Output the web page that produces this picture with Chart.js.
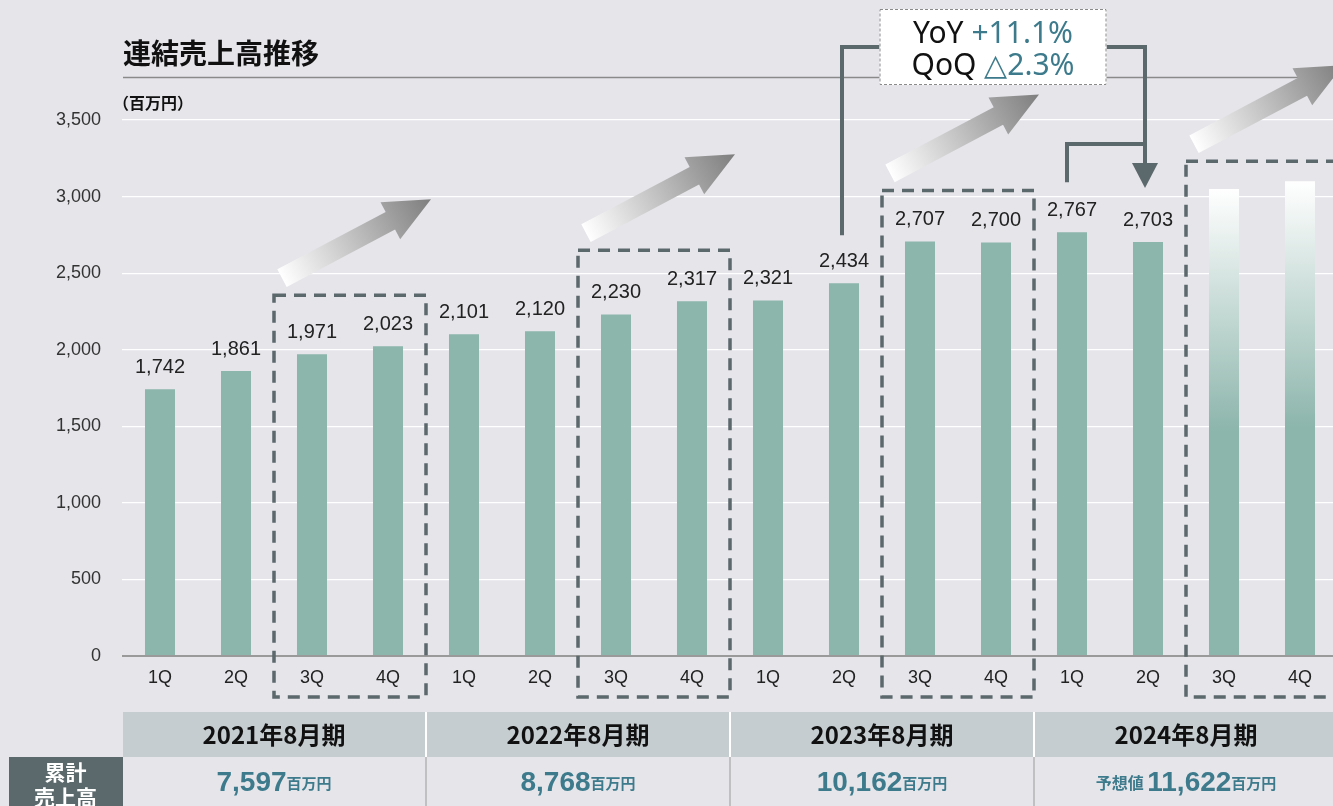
<!DOCTYPE html>
<html>
<head>
<meta charset="utf-8">
<script src="https://cdn.jsdelivr.net/npm/chart.js@4"></script>
<style>
  html, body { margin: 0; padding: 0; background: #e6e5ea; overflow: hidden; }
  #wrap { position: absolute; left: 0; top: 0; width: 1345px; height: 806px; }
</style>
</head>
<body>
<div id="wrap"><canvas id="c" width="1345" height="806"></canvas></div>
<script>
// ---- data ----
const quarters = ['1Q','2Q','3Q','4Q','1Q','2Q','3Q','4Q','1Q','2Q','3Q','4Q','1Q','2Q','3Q','4Q'];
const sales = [1742,1861,1971,2023,2101,2120,2230,2317,2321,2434,2707,2700,2767,2703,3050,3100];
const isForecast = [false,false,false,false,false,false,false,false,false,false,false,false,false,false,true,true];
const yTicks = [0,500,1000,1500,2000,2500,3000,3500];
const fiscalYears = ['2021年8月期','2022年8月期','2023年8月期','2024年8月期'];
const cumulativeSales = ['7,597','8,768','10,162','11,622'];
const cumulativePrefix = ['','','','予想値'];
const cumulativeUnit = '百万円';
const highlightGroups = [[2,3],[6,7],[10,11],[14,15]];
const yoyLabel = 'YoY', yoyValue = '+11.1%';
const qoqLabel = 'QoQ', qoqValue = '△2.3%';
const chartTitle = '連結売上高推移';
const unitLabel = '（百万円）';
const rowHeader = ['累計','売上高'];

// ---- styles ----
const BAR = '#8cb5ab';
const DARK = '#5b686c';
const TEAL = '#3d7b8c';
const SANS = '"Liberation Sans", Arial, sans-serif';
const JP = '"Noto Sans CJK JP", "Noto Sans", sans-serif';

function barColor(ctx) {
  const i = ctx.dataIndex;
  if (!isForecast[i]) return BAR;
  const ch = ctx.chart, area = ch.chartArea;
  if (!area) return BAR;
  const yTop = ch.scales.y.getPixelForValue(sales[i]);
  const g = ch.ctx.createLinearGradient(0, yTop, 0, area.bottom);
  g.addColorStop(0, '#ffffff');
  g.addColorStop(0.52, BAR);
  g.addColorStop(1, BAR);
  return g;
}

function drawArrow(ctx, x0, y0, x1, y1) {
  const dx = x1 - x0, dy = y1 - y0, L = Math.hypot(dx, dy);
  const ux = dx / L, uy = dy / L, nx = -uy, ny = ux;
  const sw = 10, hw = 21, hl = 46;
  const bx = x1 - ux * hl, by = y1 - uy * hl;
  const g = ctx.createLinearGradient(x0, y0, x1, y1);
  g.addColorStop(0, '#ffffff');
  g.addColorStop(1, '#7e7e7e');
  ctx.beginPath();
  ctx.moveTo(x0 + nx * sw, y0 + ny * sw);
  ctx.lineTo(bx + nx * sw, by + ny * sw);
  ctx.lineTo(bx + nx * hw, by + ny * hw);
  ctx.lineTo(x1, y1);
  ctx.lineTo(bx - nx * hw, by - ny * hw);
  ctx.lineTo(bx - nx * sw, by - ny * sw);
  ctx.lineTo(x0 - nx * sw, y0 - ny * sw);
  ctx.closePath();
  ctx.fillStyle = g;
  ctx.fill();
}

function drawMixed(ctx, parts, cx, cy) {
  let total = 0;
  parts.forEach(p => { ctx.font = p.font; p.w = ctx.measureText(p.text).width; total += p.w; });
  let x = cx - total / 2;
  ctx.textAlign = 'left';
  ctx.textBaseline = 'middle';
  parts.forEach(p => { ctx.font = p.font; ctx.fillStyle = p.color; ctx.fillText(p.text, x, cy); x += p.w; });
}

const overlay = {
  id: 'overlay',
  afterDatasetsDraw(chart) {
    const ctx = chart.ctx;
    const meta = chart.getDatasetMeta(0);
    ctx.save();
    ctx.fillStyle = '#222';
    ctx.font = '20px ' + SANS;
    ctx.textAlign = 'center';
    ctx.textBaseline = 'middle';
    meta.data.forEach((bar, i) => {
      if (isForecast[i]) return;
      ctx.fillText(sales[i].toLocaleString('en-US'), bar.x, bar.y - 22);
    });
    ctx.restore();
  },
  afterDraw(chart) {
    const ctx = chart.ctx, xs = chart.scales.x, ys = chart.scales.y, area = chart.chartArea;
    const half = (xs.getPixelForValue(1) - xs.getPixelForValue(0)) / 2;
    const W = chart.width;
    ctx.save();

    // title and rule
    ctx.fillStyle = '#111';
    ctx.font = 'bold 28px ' + JP;
    ctx.textAlign = 'left';
    ctx.textBaseline = 'middle';
    ctx.fillText(chartTitle, area.left + 1, 53);
    ctx.strokeStyle = '#8a8a8a';
    ctx.lineWidth = 1.5;
    ctx.beginPath(); ctx.moveTo(area.left + 1, 77.5); ctx.lineTo(W, 77.5); ctx.stroke();
    ctx.font = 'bold 16px ' + JP;
    ctx.fillStyle = '#111';
    ctx.fillText(unitLabel, area.left - 9, 103);

    // dashed boxes and arrows
    highlightGroups.forEach(g => {
      const l = xs.getPixelForValue(g[0]) - half;
      const r = xs.getPixelForValue(g[1]) + half;
      const vmax = Math.max(...g.map(i => sales[i]));
      const labelled = g.some(i => !isForecast[i]);
      const top = ys.getPixelForValue(vmax) - (labelled ? 51 : 20);
      const bottom = area.bottom + 41;
      ctx.setLineDash([12, 8]);
      ctx.strokeStyle = DARK;
      ctx.lineWidth = 3.5;
      ctx.strokeRect(l, top, r - l, bottom - top);
      ctx.setLineDash([]);
      drawArrow(ctx, l + 8, top - 17, r + 5, top - 96);
    });

    // annotation box
    const bw = 227, bh = 76;
    const bcx = xs.getPixelForValue(11) - 3;
    const bl = bcx - bw / 2, bt = 9;
    const lineY = 47;
    ctx.strokeStyle = DARK;
    ctx.lineWidth = 4;
    ctx.lineJoin = 'miter';
    const lx = xs.getPixelForValue(9) - 2;
    ctx.beginPath();
    ctx.moveTo(lx, ys.getPixelForValue(sales[9]) - 48);
    ctx.lineTo(lx, lineY);
    ctx.lineTo(bl, lineY);
    ctx.stroke();
    const rx = xs.getPixelForValue(13) - 3;
    const tipY = ys.getPixelForValue(sales[13]) - 54;
    ctx.beginPath();
    ctx.moveTo(bl + bw, lineY);
    ctx.lineTo(rx, lineY);
    ctx.lineTo(rx, tipY - 24);
    ctx.stroke();
    ctx.beginPath();
    ctx.moveTo(rx - 13, tipY - 25);
    ctx.lineTo(rx + 13, tipY - 25);
    ctx.lineTo(rx, tipY);
    ctx.closePath();
    ctx.fillStyle = DARK;
    ctx.fill();
    const qx = xs.getPixelForValue(12) - 5;
    ctx.beginPath();
    ctx.moveTo(qx, ys.getPixelForValue(sales[12]) - 50);
    ctx.lineTo(qx, 144);
    ctx.lineTo(rx, 144);
    ctx.stroke();
    ctx.fillStyle = '#ffffff';
    ctx.fillRect(bl, bt, bw, bh);
    ctx.setLineDash([3, 2]);
    ctx.strokeStyle = '#8a8a8a';
    ctx.lineWidth = 1;
    ctx.strokeRect(bl + 0.5, bt + 0.5, bw - 1, bh - 1);
    ctx.setLineDash([]);
    const af = '30px "Noto Sans", "Open Sans", sans-serif';
    drawMixed(ctx, [{text: yoyLabel + ' ', font: af, color: '#111'}, {text: yoyValue, font: af, color: TEAL}], bcx, 34);
    drawMixed(ctx, [{text: qoqLabel + ' ', font: af, color: '#111'}, {text: qoqValue, font: af, color: TEAL}], bcx, 66);

    // table
    const hTop = 712, hBot = 757, rBot = 806;
    ctx.fillStyle = '#c5cdd0';
    ctx.fillRect(area.left + 1, hTop, W - area.left, hBot - hTop);
    ctx.fillStyle = DARK;
    ctx.fillRect(9, hBot, area.left + 1 - 9, rBot - hBot);
    ctx.fillStyle = '#ffffff';
    ctx.font = 'bold 21px ' + JP;
    ctx.textAlign = 'center';
    ctx.textBaseline = 'middle';
    ctx.fillText(rowHeader[0], (9 + area.left) / 2, 772);
    ctx.fillText(rowHeader[1], (9 + area.left) / 2, 797);
    fiscalYears.forEach((fy, k) => {
      const l = xs.getPixelForValue(k * 4) - half;
      const r = xs.getPixelForValue(k * 4 + 3) + half;
      const cx = (l + r) / 2;
      if (k > 0) {
        ctx.fillStyle = '#ffffff';
        ctx.fillRect(l - 1, hTop, 2, hBot - hTop);
        ctx.fillStyle = '#9a9a9a';
        ctx.fillRect(l - 0.5, hBot, 1, rBot - hBot);
      }
      ctx.fillStyle = '#111';
      ctx.font = 'bold 24px ' + JP;
      ctx.textAlign = 'center';
      ctx.textBaseline = 'middle';
      ctx.fillText(fy, cx, 735);
      const parts = [];
      if (cumulativePrefix[k]) parts.push({text: cumulativePrefix[k] + ' ', font: 'bold 16px ' + JP, color: TEAL});
      parts.push({text: cumulativeSales[k], font: 'bold 28px ' + SANS, color: TEAL});
      parts.push({text: cumulativeUnit, font: 'bold 15px ' + JP, color: TEAL});
      drawMixed(ctx, parts, cx, 783);
    });
    ctx.restore();
  }
};

new Chart(document.getElementById('c'), {
  type: 'bar',
  data: {
    labels: quarters,
    datasets: [{
      data: sales,
      backgroundColor: barColor,
      borderWidth: 0,
      barPercentage: 0.395,
      categoryPercentage: 1
    }]
  },
  options: {
    responsive: false,
    animation: false,
    devicePixelRatio: 1,
    layout: { padding: { top: 120, right: 7, left: 0, bottom: 0 } },
    plugins: { legend: { display: false }, tooltip: { enabled: false }, title: { display: false } },
    scales: {
      x: {
        grid: { display: false, drawTicks: false },
        border: { display: false },
        ticks: { color: '#222', font: { size: 18, family: SANS }, padding: 11, maxRotation: 0 },
        afterFit(s) { s.height = 150; }
      },
      y: {
        min: 0, max: 3500,
        afterBuildTicks(s) { s.ticks = yTicks.map(v => ({ value: v })); },
        ticks: { color: '#333', font: { size: 18, family: SANS }, padding: 21,
                 callback: v => v.toLocaleString('en-US') },
        grid: {
          drawTicks: false,
          color: c => c.tick && c.tick.value === 0 ? '#9a9a9a' : '#ffffff',
          lineWidth: c => c.tick && c.tick.value === 0 ? 2 : 1.2
        },
        border: { display: false },
        afterFit(s) { s.width = 122; }
      }
    }
  },
  plugins: [overlay]
});
</script>
</body>
</html>
